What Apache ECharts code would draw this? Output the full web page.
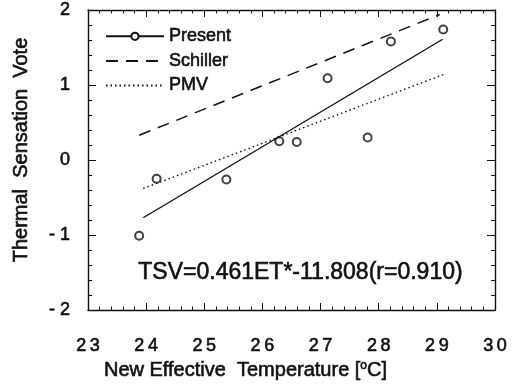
<!DOCTYPE html>
<html><head><meta charset="utf-8">
<script src="https://cdn.jsdelivr.net/npm/echarts@6/dist/echarts.min.js"></script>
<style>html,body{margin:0;padding:0;background:#fff}#c{width:518px;height:390px}</style>
</head><body><div id="c"></div>
<script>
// Observed data (New Effective Temperature ET*, Thermal Sensation Vote)
var presentX = [23.88, 24.18, 25.38, 26.29, 26.59, 27.12, 27.81, 28.21, 29.11];
var presentY = [-1.01, -0.25, -0.26, 0.25, 0.24, 1.09, 0.30, 1.58, 1.74];
// Line end points
var presentFitX = [23.95, 29.10];
var presentFitY = [-0.77, 1.61];
var schillerX = [23.88, 29.05];
var schillerY = [0.33, 1.94];
var pmvX = [23.95, 29.15];
var pmvY = [-0.38, 1.15];
var xTicks = [23, 24, 25, 26, 27, 28, 29, 30];
var yTicks = [-2, -1, 0, 1, 2];
var minorStep = 0.2;
var seriesNames = ['Present', 'Schiller', 'PMV'];
var annotation = 'TSV=0.461ET*-11.808(r=0.910)';
var xTitle = 'New Effective  Temperature [{s|o}C]';
var yTitle = 'Thermal  Sensation  Vote';

function pairs(xs, ys) { return xs.map(function (x, i) { return [x, ys[i]]; }); }

var FONT = 'Liberation Sans';
var ink = '#111';
var bold = {textBorderColor: ink, textBorderWidth: 0.6};
var hiddenSplit = {show: true, lineStyle: {color: 'rgba(0,0,0,0)', opacity: 0}};
var chart = echarts.init(document.getElementById('c'), null, {renderer: 'canvas'});

var xMin = xTicks[0], xMax = xTicks[xTicks.length - 1];
var yMin = yTicks[0], yMax = yTicks[yTicks.length - 1];

function baseAxis(isX, pos, labels) {
  var a = {
    type: 'value', position: pos,
    min: isX ? xMin : yMin, max: isX ? xMax : yMax, interval: 1,
    axisLine: {show: true, onZero: false, lineStyle: {color: ink, width: 1.4}},
    axisTick: {show: false}, minorTick: {show: false}, splitLine: {show: false},
    axisLabel: {show: false}
  };
  if (labels) {
    a.axisLabel = Object.assign({show: true, margin: isX ? 27 : 18, color: ink, fontFamily: FONT, fontSize: 18,
      formatter: isX ? function (v) { return String(v).split('').join('\u2009'); }
                     : function (v) { return v < 0 ? '- ' + Math.abs(v) : String(v); }}, bold);
    a.name = isX ? xTitle : yTitle;
    a.nameLocation = 'middle';
    a.nameGap = isX ? 50 : 57;
    a.nameMoveOverlap = false;
    a.nameTextStyle = Object.assign({color: ink, fontFamily: FONT, fontSize: 20,
      padding: isX ? [0, 92, 0, 0] : [0, 0, 0, 20],
      rich: {s: Object.assign({fontSize: 12, verticalAlign: 'top', padding: [0, 0, 9, 0], fontFamily: FONT, color: ink}, bold)}}, bold);
  }
  return a;
}
// tick-only axes, shifted into the plot so that outward ticks point inward
function tickAxis(isX, pos, step, len) {
  return {
    type: 'value', position: pos, offset: -len,
    min: isX ? xMin : yMin, max: isX ? xMax : yMax, interval: step,
    axisLine: {show: false, onZero: false, lineStyle: {color: ink}},
    axisTick: {show: true, inside: false, length: len, lineStyle: {color: ink}},
    minorTick: {show: false}, splitLine: hiddenSplit,
    axisLabel: {show: true, margin: 0, fontSize: 1, color: 'rgba(0,0,0,0)'}
  };
}

chart.setOption({
  animation: false,
  backgroundColor: '#fff',
  grid: {left: 88, right: 23, top: 10, bottom: 80},
  xAxis: [
    baseAxis(true, 'bottom', true), baseAxis(true, 'top', false),
    tickAxis(true, 'bottom', 1, 7), tickAxis(true, 'bottom', minorStep, 3.5),
    tickAxis(true, 'top', 1, 7), tickAxis(true, 'top', minorStep, 3.5)
  ],
  yAxis: [
    baseAxis(false, 'left', true), baseAxis(false, 'right', false),
    tickAxis(false, 'left', 1, 8), tickAxis(false, 'left', minorStep, 4),
    tickAxis(false, 'right', 1, 8), tickAxis(false, 'right', minorStep, 4)
  ],
  legend: {
    orient: 'vertical', left: 100, top: 22, itemWidth: 58, itemHeight: 9, itemGap: 6,
    data: [
      {name: seriesNames[0]},
      {name: seriesNames[1], itemStyle: {opacity: 0}},
      {name: seriesNames[2], itemStyle: {opacity: 0}}
    ],
    textStyle: Object.assign({color: ink, fontFamily: FONT, fontSize: 18}, bold),
    inactiveColor: ink
  },
  graphic: [{
    type: 'text', left: 138, top: 261, z: 10,
    style: {text: annotation, fill: ink, font: '23px "Liberation Sans"', stroke: ink, lineWidth: 0.6}
  }],
  series: [
    {
      name: seriesNames[0], type: 'line', data: pairs(presentFitX, presentFitY),
      showSymbol: false, symbol: 'emptyCircle', symbolSize: 7,
      itemStyle: {color: ink},
      lineStyle: {color: ink, width: 1.4}
    },
    {
      name: seriesNames[0], type: 'scatter', data: pairs(presentX, presentY),
      symbol: 'emptyCircle', symbolSize: 8,
      itemStyle: {color: ink, borderWidth: 1.4}
    },
    {
      name: seriesNames[1], type: 'line', data: pairs(schillerX, schillerY), showSymbol: false, symbol: 'none',
      lineStyle: {color: ink, width: 1.5, type: [12, 8]}, itemStyle: {color: ink}
    },
    {
      name: seriesNames[2], type: 'line', data: pairs(pmvX, pmvY), showSymbol: false, symbol: 'none',
      lineStyle: {color: ink, width: 1.4, type: [1.5, 3]}, itemStyle: {color: ink}
    }
  ]
});
</script></body></html>
